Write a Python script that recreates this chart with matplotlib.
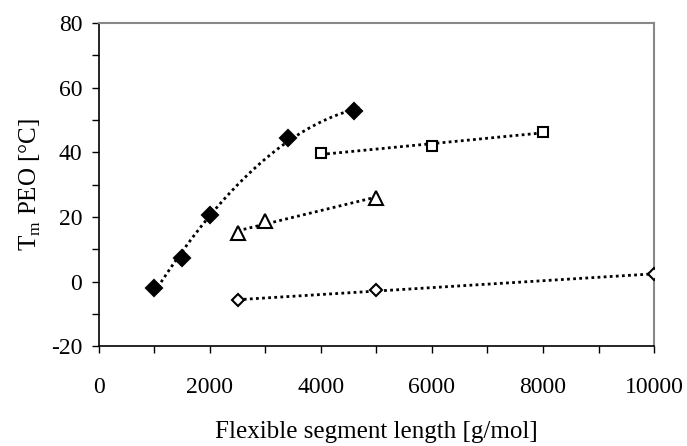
import matplotlib
matplotlib.use("Agg")
import matplotlib.pyplot as plt
from matplotlib.ticker import MultipleLocator
import numpy as np

plt.rcParams["font.family"] = ["Liberation Serif", "DejaVu Serif"]
plt.rcParams["mathtext.fontset"] = "custom"
plt.rcParams["mathtext.rm"] = "Liberation Serif"
plt.rcParams["axes.unicode_minus"] = False

# filled diamonds
x_fd = [1000, 1500, 2000, 3400, 4600]
y_fd = [-2.0, 7.2, 20.6, 44.3, 52.9]
# open squares
x_sq = [4000, 6000, 8000]
y_sq = [39.7, 42.0, 46.4]
# open triangles
x_tr = [2500, 3000, 5000]
y_tr = [15.0, 18.7, 26.0]
# open diamonds
x_od = [2500, 5000, 10000]
y_od = [-5.8, -2.7, 2.3]

# (x, y, marker, filled, size, fit degree, end of trend line)
series = [
    (x_fd, y_fd, "D", True, 8.5, 2, 4700),
    (x_sq, y_sq, "s", False, 7, 1, None),
    (x_tr, y_tr, "^", False, 10, 1, None),
    (x_od, y_od, "D", False, 6.5, 1, None),
]

fig = plt.figure(figsize=(6.87, 4.46), dpi=100)
ax = fig.add_axes([0.144, 0.224, 0.808, 0.724])

for xs, ys, mk, filled, ms, deg, xend in series:
    # trend line fitted to the points, as in the spreadsheet original
    coef = np.polyfit(xs, ys, deg)
    xx = np.linspace(xs[0], xend or xs[-1], 200)
    ax.plot(xx, np.polyval(coef, xx), color="black", lw=2,
            ls=(0, (1, 1.2)), zorder=2)
    ax.plot(xs, ys, ls="none", marker=mk, ms=ms,
            mfc="black" if filled else "white", mec="black", mew=1.5, zorder=3)

ax.set_xlim(0, 10000)
ax.set_ylim(-20, 80)
ax.xaxis.set_major_locator(MultipleLocator(2000))
ax.xaxis.set_minor_locator(MultipleLocator(1000))
ax.yaxis.set_major_locator(MultipleLocator(20))
ax.yaxis.set_minor_locator(MultipleLocator(10))
ax.tick_params(which="both", direction="out", length=5, width=1, labelsize=17,
               top=False, right=False)
ax.tick_params(axis="x", pad=17)
ax.tick_params(axis="y", pad=7)

for s in ("left", "bottom"):
    ax.spines[s].set_color("black")
    ax.spines[s].set_linewidth(1.2)
for s in ("top", "right"):
    ax.spines[s].set_color("#888888")
    ax.spines[s].set_linewidth(1.5)

ax.set_xlabel("Flexible segment length [g/mol]", fontsize=18, labelpad=17)
ax.set_ylabel("T$_\\mathregular{m}$ PEO [°C]", fontsize=18, labelpad=6)

fig.savefig("out.png", dpi=100)
